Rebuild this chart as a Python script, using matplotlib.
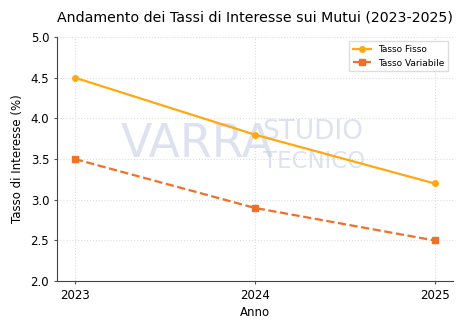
import matplotlib
matplotlib.use("Agg")
import matplotlib.pyplot as plt

# ── Data ──────────────────────────────────────────────────────────────────────
anni = [2023, 2024, 2025]
tasso_fisso = [4.5, 3.8, 3.2]
tasso_variabile = [3.5, 2.9, 2.5]

plt.rcParams.update({
    "font.family": "DejaVu Sans",
    "font.size": 8,
})

fig, ax = plt.subplots(figsize=(4.74, 3.30), dpi=100)
fig.subplots_adjust(left=0.12, right=0.955, top=0.888, bottom=0.148)

# watermark (faint logo behind the lines)
wm = dict(transform=ax.transAxes, color="#c8d0e4", alpha=0.6,
          va="center", zorder=0)
ax.text(0.16, 0.56, "VARRA", fontsize=33, ha="left", **wm)
ax.text(0.52, 0.61, "STUDIO", fontsize=19, ha="left", **wm)
ax.text(0.52, 0.49, "TECNICO", fontsize=16.5, ha="left", **wm)

ax.plot(anni, tasso_fisso, color="#FFA812", marker="o", markersize=4,
        linewidth=1.6, label="Tasso Fisso", zorder=3)
ax.plot(anni, tasso_variabile, color="#F36F26", marker="s", markersize=4,
        linewidth=1.6, linestyle="--", label="Tasso Variabile", zorder=3)

ax.set_title("Andamento dei Tassi di Interesse sui Mutui (2023-2025)",
             fontsize=10.2, pad=11)
ax.set_xlabel("Anno", fontsize=8.5, labelpad=3)
ax.set_ylabel("Tasso di Interesse (%)", fontsize=8.5, labelpad=5)
ax.set_xticks(anni)
ax.set_xlim(2022.9, 2025.1)
ax.set_ylim(2.0, 5.0)
ax.set_yticks([2.0, 2.5, 3.0, 3.5, 4.0, 4.5, 5.0])
ax.tick_params(length=2, labelsize=8.5, color="#555555")
ax.grid(True, linestyle=":", color="#dddddd", linewidth=0.8)
ax.spines[["top", "right"]].set_visible(False)
ax.spines[["left", "bottom"]].set_color("#444444")

ax.legend(loc="upper right", fontsize=6.5, framealpha=1, edgecolor="#dddddd",
          fancybox=False)

fig.savefig("out.png", dpi=100)
